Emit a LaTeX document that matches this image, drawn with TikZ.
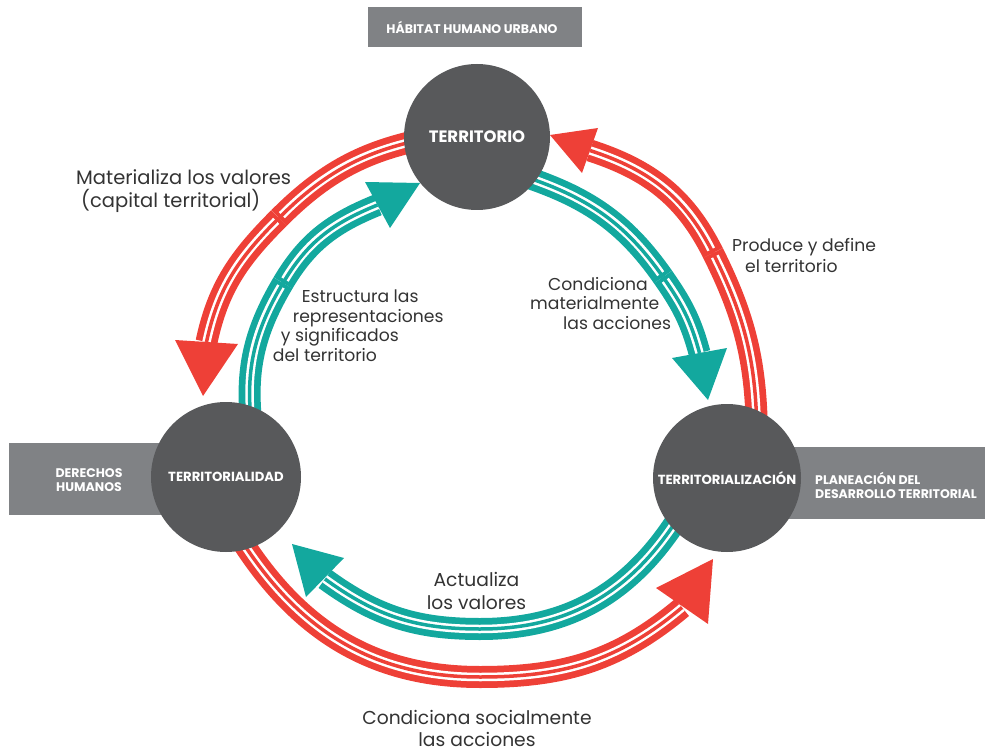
\documentclass[tikz,border=0pt]{standalone}
\usepackage{fontspec}
\setmainfont{Poppins}
\usetikzlibrary{calc}
\definecolor{cred}{HTML}{EE4037}
\definecolor{cteal}{HTML}{13A89E}
\definecolor{cgray}{HTML}{58595B}
\definecolor{bgray}{HTML}{808285}
\definecolor{ctext}{HTML}{333333}
\newcommand{\jband}[3]{%
  \draw[#1, line width=22pt] #2; \draw[#1, line width=22pt] #3;
  \draw[white, line width=8.5pt, shorten >=4pt] #2;
  \draw[white, line width=8.5pt, shorten <=4pt] #3;
  \draw[#1, line width=3.5pt] #2; \draw[#1, line width=3.5pt] #3;}
\newcommand{\sband}[2]{%
  \draw[#1, line width=22pt] #2;
  \draw[white, line width=8.5pt] #2;
  \draw[#1, line width=3.5pt] #2;}
\begin{document}
\begin{tikzpicture}[x=1pt,y=1pt,
  hub/.style={circle, fill=cgray, minimum size=148pt, inner sep=0pt, text=white, font=\bfseries\fontsize{13.2}{15}\selectfont},
  tag/.style={fill=bgray, inner sep=0pt},
  tagtext/.style={text=white, inner sep=0pt, font=\bfseries\fontsize{12.5}{14}\selectfont},
  lbl/.style={text=ctext, inner sep=0pt, font=\fontsize{18.7}{23}\selectfont},
  lbls/.style={text=ctext, inner sep=0pt, font=\fontsize{17.2}{19.5}\selectfont}]
\useasboundingbox (0,0) rectangle (985,-751);
% band coordinates
\coordinate (r1s) at (440,-136); \coordinate (r1j) at (279,-218); \coordinate (r1e) at (206.5,-342);
\coordinate (r2s) at (757,-445); \coordinate (r2j) at (713,-253); \coordinate (r2e) at (590,-150.5);
\coordinate (r3s) at (238,-535); \coordinate (r3m) at (480,-677); \coordinate (r3e) at (682,-607.5);
\coordinate (t1s) at (252,-430); \coordinate (t1j) at (283,-283); \coordinate (t1e) at (377.5,-205);
\coordinate (t2s) at (520,-175); \coordinate (t2j) at (663,-277); \coordinate (t2e) at (699.5,-353);
\coordinate (t3s) at (680,-515); \coordinate (t3m) at (480,-629); \coordinate (t3e) at (325,-579);
% arrowhead vertices
\coordinate (r1t) at (203,-396); \coordinate (r1a) at (175,-340); \coordinate (r1b) at (238,-344);
\coordinate (r2t) at (550,-135); \coordinate (r2a) at (582,-173); \coordinate (r2b) at (598,-128);
\coordinate (r3t) at (713,-559); \coordinate (r3a) at (656,-588); \coordinate (r3b) at (708,-624);
\coordinate (t1t) at (420,-183); \coordinate (t1a) at (365,-182); \coordinate (t1b) at (390,-228);
\coordinate (t2t) at (708,-400); \coordinate (t2a) at (672,-358); \coordinate (t2b) at (727,-348);
\coordinate (t3t) at (292,-544); \coordinate (t3a) at (344,-558); \coordinate (t3b) at (306,-597);
% bands
\jband{cred}{(r1s) to[out=190,in=45] (r1j)}{(r1j) to[out=225,in=78] (r1e)}
\jband{cred}{(r2s) to[out=90,in=296.6] (r2j)}{(r2j) to[out=116.6,in=342] (r2e)}
\sband{cred}{(r3s) to[out=-58,in=180] (r3m) to[out=0,in=220] (r3e)}
\jband{cteal}{(t1s) to[out=97,in=239.4] (t1j)}{(t1j) to[out=59.4,in=202] (t1e)}
\jband{cteal}{(t2s) to[out=-18,in=125] (t2j)}{(t2j) to[out=-55,in=105] (t2e)}
\sband{cteal}{(t3s) to[out=238,in=0] (t3m) to[out=180,in=-36] (t3e)}
% arrowheads
\fill[cred] (r1t) -- (r1a) -- (r1b) -- cycle;
\fill[cred] (r2t) -- (r2a) -- (r2b) -- cycle;
\fill[cred] (r3t) -- (r3a) -- (r3b) -- cycle;
\fill[cteal] (t1t) -- (t1a) -- (t1b) -- cycle;
\fill[cteal] (t2t) -- (t2a) -- (t2b) -- cycle;
\fill[cteal] (t3t) -- (t3a) -- (t3b) -- cycle;
% boxes
\node[tag, minimum width=214pt, minimum height=40pt] (hab) at (475,-27.5) {};
\node[tagtext] (habt) at (472,-27.5) {HÁBITAT HUMANO URBANO};
\node[tag, minimum width=211pt, minimum height=72pt] (der) at (114.5,-479) {};
\node[tagtext, align=center] (dert) at (89,-480) {DERECHOS\\HUMANOS};
\node[tag, minimum width=225pt, minimum height=72pt] (pla) at (872.5,-483) {};
\node[tagtext, align=left, anchor=west] (plat) at (815,-485) {PLANEACIÓN DEL\\DESARROLLO TERRITORIAL};
% hubs
\node[hub, minimum size=146pt, font=\bfseries\fontsize{16.5}{18}\selectfont] (ter) at (477,-137) {TERRITORIO};
\node[hub, minimum size=150pt] (tdad) at (226,-477) {TERRITORIALIDAD};
\node[hub, minimum size=148pt] (tzac) at (727,-478) {TERRITORIALIZACIÓN};
% labels
\node[lbl, align=left, anchor=west, font=\fontsize{19.5}{23}\selectfont] (l1) at (76,-191.5) {Materializa los valores\\\hspace*{5pt}(capital territorial)};
\node[lbls, align=left, anchor=west] (l2) at (272.7,-325.5) {\hspace*{29pt}Estructura las\\\hspace*{20pt}representaciones\\\hspace*{8pt}y significados\\del territorio};
\node[lbls, align=left, anchor=west] (l3) at (530,-303.5) {\hspace*{18pt}Condiciona\\materialmente\\\hspace*{33pt}las acciones};
\node[lbls, align=left, anchor=west, font=\fontsize{17.2}{21}\selectfont] (l4) at (732,-255.5) {Produce y define\\\hspace*{13pt}el territorio};
\node[lbl, align=center] (l5) at (476.5,-590.5) {Actualiza\\los valores};
\node[lbl, align=center, font=\fontsize{18.7}{22}\selectfont] (l6) at (477,-728.5) {Condiciona socialmente\\las acciones};
\end{tikzpicture}
\end{document}
